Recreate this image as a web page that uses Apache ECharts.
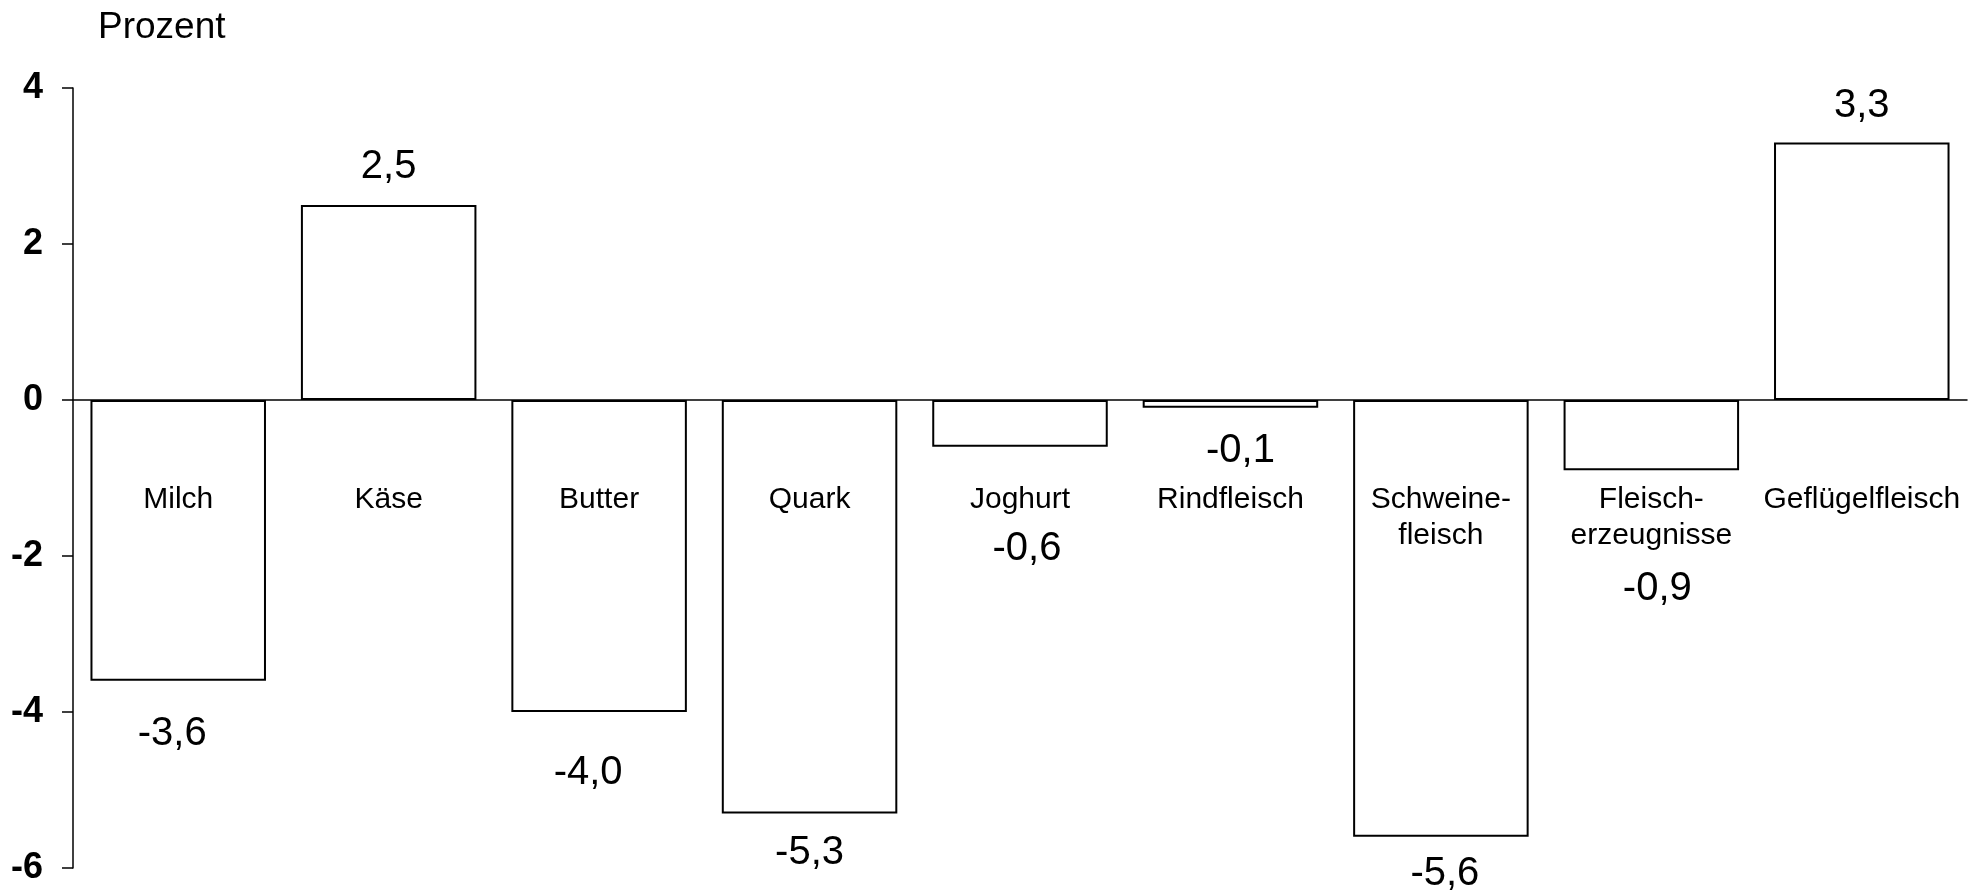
<!DOCTYPE html>
<html><head><meta charset="utf-8">
<script src="https://cdn.jsdelivr.net/npm/echarts/dist/echarts.min.js"></script>
<style>html,body{margin:0;padding:0;background:#fff}#c{width:1979px;height:895px}</style>
</head><body><div id="c"></div>
<script>
// ---- data ----
const categories = ['Milch', 'Käse', 'Butter', 'Quark', 'Joghurt', 'Rindfleisch', 'Schweine-\nfleisch', 'Fleisch-\nerzeugnisse', 'Geflügelfleisch'];
const values = [-3.6, 2.5, -4.0, -5.3, -0.6, -0.1, -5.6, -0.9, 3.3];
const yMin = -6;
const yMax = 4;
const yStep = 2;
const yTitle = 'Prozent';

// ---- styling (label placement in pixels, as in the original) ----
const labelOffsets = [[-6, 53], [0, -38], [-11, 61], [0, 40], [7, 102], [10, 43], [4, 37], [6, 119], [0, -37]];
const FONT = '"Liberation Sans", Arial, sans-serif';

const chart = echarts.init(document.getElementById('c'), null, {renderer: 'canvas'});
chart.setOption({
  animation: false,
  backgroundColor: '#fff',
  title: {
    text: yTitle, left: 93, top: 4,
    textStyle: {fontFamily: FONT, fontSize: 37, fontWeight: 'normal', color: '#000'}
  },
  grid: {left: 73, right: 12, top: 88, bottom: 27, containLabel: false, outerBoundsMode: 'none'},
  xAxis: {
    type: 'category',
    data: categories,
    axisLine: {onZero: true, lineStyle: {color: '#000', width: 1.5}},
    axisTick: {show: false},
    axisLabel: {show: false},
    splitLine: {show: false}
  },
  yAxis: {
    type: 'value',
    min: yMin, max: yMax, interval: yStep,
    axisLine: {show: true, onZero: false, lineStyle: {color: '#000', width: 1.5}},
    axisTick: {show: true, length: 11, lineStyle: {color: '#000', width: 1.5}},
    axisLabel: {margin: 30, color: '#000', fontFamily: FONT, fontSize: 36, fontWeight: 'bold'},
    splitLine: {show: false}
  },
  series: [
    {
      type: 'bar',
      data: values,
      barCategoryGap: '16.6%',
      itemStyle: {color: '#fff', borderColor: '#000', borderWidth: 2},
      silent: true
    },
    {
      // value labels
      type: 'scatter',
      data: values.map((v, i) => ({value: v, label: {offset: labelOffsets[i]}})),
      symbolSize: 1,
      itemStyle: {color: 'rgba(0,0,0,0)', opacity: 1},
      silent: true,
      z: 5,
      label: {
        show: true, position: 'inside', color: '#000', opacity: 1, textBorderWidth: 0,
        fontFamily: FONT, fontSize: 40,
        formatter: p => p.value.toFixed(1).replace('.', ',')
      }
    },
    {
      // category names, drawn just below the zero line inside the plot
      type: 'scatter',
      data: categories.map(() => 0),
      symbolSize: 1,
      itemStyle: {color: 'rgba(0,0,0,0)', opacity: 1},
      silent: true,
      z: 5,
      label: {
        show: true, position: 'inside', offset: [0, 82], verticalAlign: 'top', align: 'center',
        color: '#000', opacity: 1, textBorderWidth: 0,
        fontFamily: FONT, fontSize: 30, lineHeight: 36,
        formatter: p => categories[p.dataIndex]
      }
    }
  ]
});
</script>
</body></html>
